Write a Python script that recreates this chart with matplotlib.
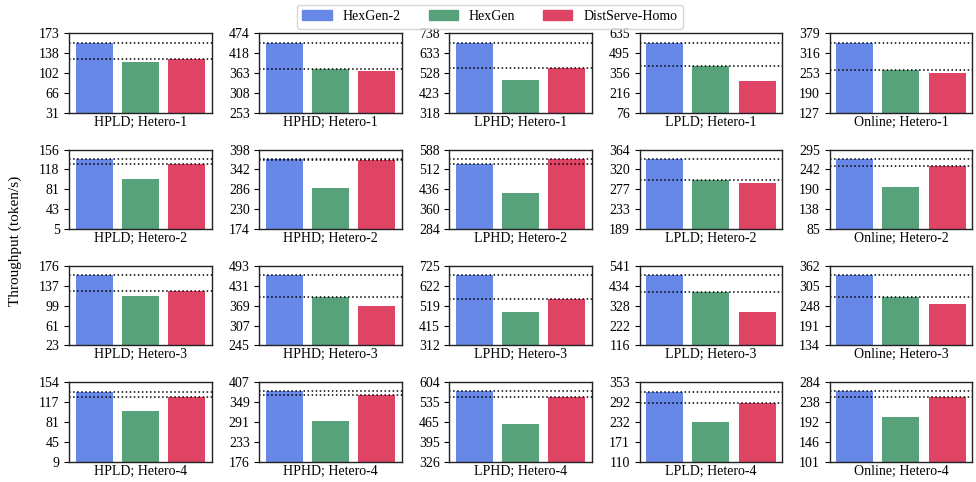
import numpy as np
import matplotlib
matplotlib.use("Agg")
import matplotlib.pyplot as plt

plt.rcParams['font.family'] = ['Liberation Serif', 'DejaVu Serif']
plt.rcParams['font.size'] = 10

workloads = ["HPLD", "HPHD", "LPHD", "LPLD", "Online"]
clusters = ["Hetero-1", "Hetero-2", "Hetero-3", "Hetero-4"]
systems = ["HexGen-2", "HexGen", "DistServe-Homo"]
colors = ["#6788e6", "#57a27a", "#e04464"]

# throughput (token/s), rows = clusters, cols = workloads
hexgen2 = [
    [156.4, 448.2, 689.0, 569.8, 349.6],
    [138.8, 372.5, 534.1, 344.1, 271.1],
    [159.1, 465.6, 679.3, 494.0, 336.8],
    [136.5, 380.0, 571.6, 321.6, 262.6],
]
hexgen = [
    [122.1, 375.5, 493.0, 406.7, 261.4],
    [100.6, 290.3, 423.8, 297.5, 196.6],
    [118.7, 395.9, 486.0, 401.7, 271.8],
    [100.8, 293.4, 456.9, 230.5, 203.2],
]
distserve = [
    [127.4, 368.1, 554.3, 297.3, 252.0],
    [129.2, 369.6, 553.4, 290.9, 252.5],
    [128.5, 368.5, 554.5, 295.0, 253.3],
    [126.8, 368.5, 550.7, 289.2, 249.7],
]

yticks = [
    [[31, 66, 102, 138, 173], [253, 308, 363, 418, 474], [318, 423, 528, 633, 738],
     [76, 216, 356, 495, 635], [127, 190, 253, 316, 379]],
    [[5, 43, 81, 118, 156], [174, 230, 286, 342, 398], [284, 360, 436, 512, 588],
     [189, 233, 277, 320, 364], [85, 138, 190, 242, 295]],
    [[23, 61, 99, 137, 176], [245, 307, 369, 431, 493], [312, 415, 519, 622, 725],
     [116, 222, 328, 434, 541], [134, 191, 248, 305, 362]],
    [[9, 45, 81, 117, 154], [176, 233, 291, 349, 407], [326, 395, 465, 535, 604],
     [110, 171, 232, 292, 353], [101, 146, 192, 238, 284]],
]

fig, axes = plt.subplots(4, 5, figsize=(9.76, 4.82), dpi=100)
fig.subplots_adjust(left=0.071, right=0.996, top=0.931, bottom=0.042,
                    wspace=0.335, hspace=0.46)

for i, cl in enumerate(clusters):
    for j, wl in enumerate(workloads):
        ax = axes[i, j]
        vals = [hexgen2[i][j], hexgen[i][j], distserve[i][j]]
        ax.bar(range(3), vals, width=0.8, color=colors)
        # reference lines: ours and best baseline
        ax.axhline(hexgen2[i][j], color="black", linestyle=":", linewidth=1.1)
        ax.axhline(max(hexgen[i][j], distserve[i][j]), color="black",
                   linestyle=":", linewidth=1.1)
        t = yticks[i][j]
        ax.set_ylim(t[0], t[-1])
        ax.set_yticks(np.linspace(t[0], t[-1], 5))
        ax.set_yticklabels([str(v) for v in t])
        ax.set_xticks([])
        ax.set_xlabel(f"{wl}; {cl}", labelpad=2)
        for s in ax.spines.values():
            s.set_linewidth(1.0)
            s.set_color("#222222")

handles = [plt.Rectangle((0, 0), 1, 1, color=c) for c in colors]
fig.legend(handles, systems, loc="upper center", bbox_to_anchor=(0.502, 1.005),
           ncol=3, frameon=True, fontsize=10, columnspacing=2.0,
           handlelength=2.1, borderpad=0.4)
fig.text(0.016, 0.5, "Throughput (token/s)", rotation=90, va="center",
         ha="center", fontsize=11)

fig.savefig("out.png", dpi=100)
